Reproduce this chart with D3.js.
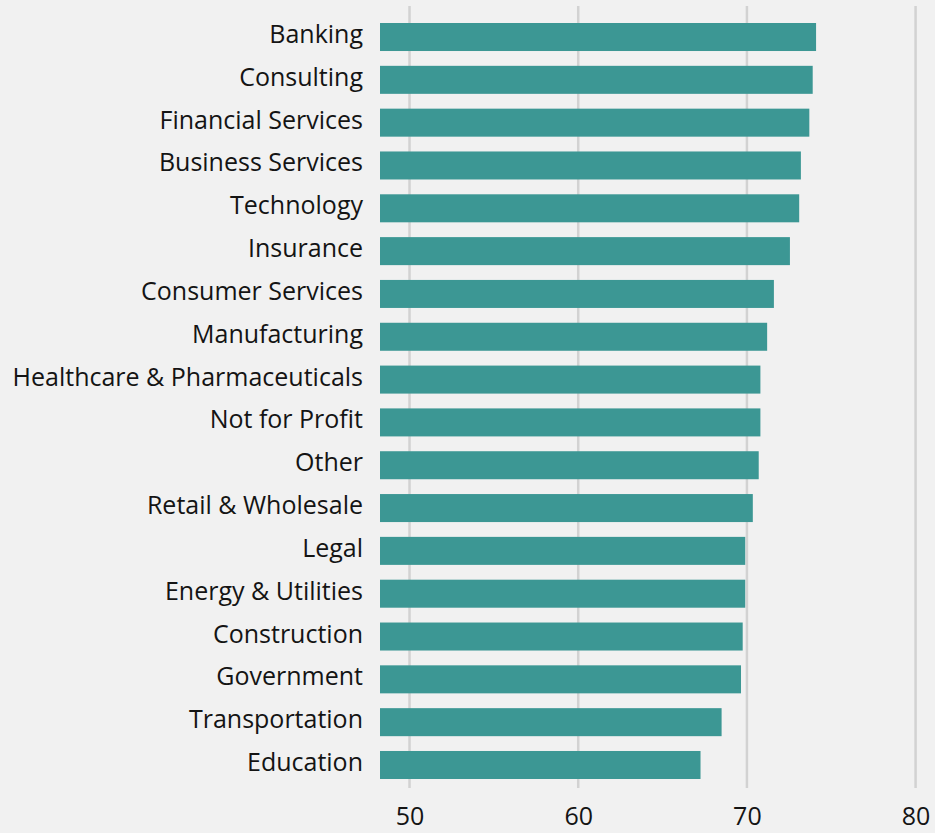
<!DOCTYPE html>
<html>
<head>
<meta charset="utf-8">
<script src="https://cdn.jsdelivr.net/npm/d3@7"></script>
<style>
  html, body { margin: 0; padding: 0; background: #f1f1f1; }
  svg { display: block; }
  text { font-family: "Open Sans", "Noto Sans", sans-serif; fill: #141414; }
</style>
</head>
<body>
<svg id="chart" width="935" height="833"></svg>
<script>
// Industry names, top to bottom
const industries = [
  "Banking", "Consulting", "Financial Services", "Business Services",
  "Technology", "Insurance", "Consumer Services", "Manufacturing",
  "Healthcare & Pharmaceuticals", "Not for Profit", "Other",
  "Retail & Wholesale", "Legal", "Energy & Utilities", "Construction",
  "Government", "Transportation", "Education"
];
// Score per industry
const scores = [
  74.1, 73.9, 73.7, 73.2, 73.1, 72.55, 71.6, 71.2, 70.8, 70.8, 70.7,
  70.35, 69.9, 69.9, 69.75, 69.65, 68.5, 67.25
];
// Axis tick values
const tickValues = [50, 60, 70, 80];

const data = industries.map((name, i) => ({ name, value: scores[i] }));

const svg = d3.select("#chart");

const x = d3.scaleLinear()
  .domain([48.25, 80])
  .range([380, 915.6]);

const y = d3.scaleBand()
  .domain(industries)
  .range([15.6, 786.4])
  .paddingInner(0.346)
  .paddingOuter(0.173);

// Vertical grid lines
svg.append("g")
  .selectAll("line")
  .data(tickValues)
  .join("line")
  .attr("x1", d => x(d))
  .attr("x2", d => x(d))
  .attr("y1", 6)
  .attr("y2", 788)
  .attr("stroke", "#d2d2d2")
  .attr("stroke-width", 2.5);

// Bars
svg.append("g")
  .selectAll("rect")
  .data(data)
  .join("rect")
  .attr("x", x(x.domain()[0]))
  .attr("y", d => y(d.name))
  .attr("width", d => x(d.value) - x(x.domain()[0]))
  .attr("height", y.bandwidth())
  .attr("fill", "#3c9794");

// Category labels
svg.append("g")
  .selectAll("text")
  .data(data)
  .join("text")
  .attr("x", 363)
  .attr("y", d => y(d.name) + y.bandwidth() / 2 + 6)
  .attr("text-anchor", "end")
  .attr("font-size", 25)
  .text(d => d.name);

// Bottom axis labels
const xAxis = d3.axisBottom(x)
  .tickValues(tickValues)
  .tickSize(0)
  .tickPadding(0)
  .tickFormat(d3.format("d"));

const axisG = svg.append("g")
  .attr("transform", "translate(0, 816)")
  .call(xAxis);
axisG.select(".domain").remove();
axisG.selectAll("text")
  .attr("dy", "0.35em")
  .attr("y", 0)
  .attr("font-size", 25)
  .attr("font-family", "'Open Sans', 'Noto Sans', sans-serif")
  .attr("fill", "#141414");
</script>
</body>
</html>
